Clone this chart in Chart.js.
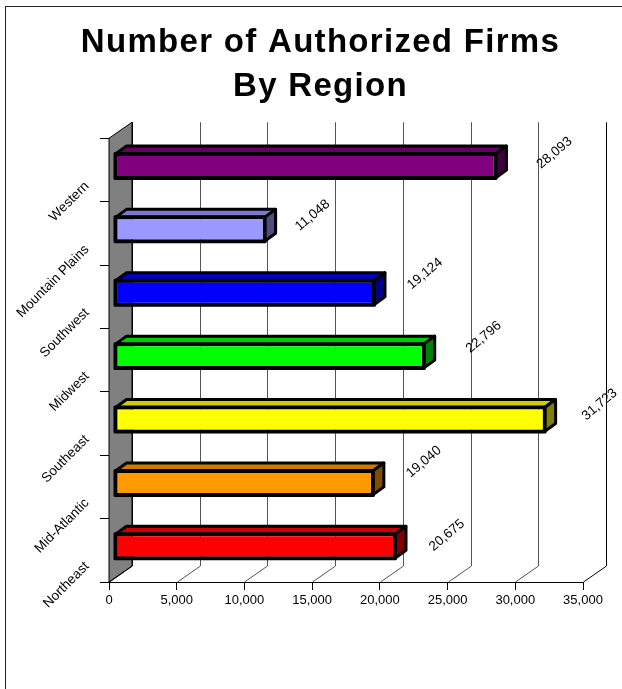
<!DOCTYPE html>
<html lang="en">
<head>
  <meta charset="UTF-8" />
  <title>Number of Authorized Firms By Region</title>
  <script src="https://cdn.jsdelivr.net/npm/chart.js"></script>
  <style>
    html, body { margin: 0; padding: 0; background: #fff; }
    canvas { display: block; }
  </style>
</head>
<body>
<canvas id="firms" width="622" height="689"></canvas>
<script>
  const regions = ['Northeast', 'Mid-Atlantic', 'Southeast', 'Midwest', 'Southwest', 'Mountain Plains', 'Western'];
  const firms = [20675, 19040, 31723, 22796, 19124, 11048, 28093];
  const barColors = ['#ff0000', '#ff9900', '#ffff00', '#00ff00', '#0000ff', '#9999ff', '#800080'];
  const xTicks = [0, 5000, 10000, 15000, 20000, 25000, 30000, 35000];

  // hand placed value labels, distance from the end of each bar
  const labelDx = [58, 57, 61, 66, 57, 54, 65];
  const labelDy = [-11, -21, -15, -19, -19, -14, -13];

  // depth of the back wall and of the bars, in pixels
  const wall = { dx: 23, dy: -16 };
  const barShift = { dx: 6, dy: -4 };
  const barDepth = { dx: 11, dy: -8 };

  function shade(hex, k) {
    const n = parseInt(hex.slice(1), 16);
    const c = [n >> 16, (n >> 8) & 255, n & 255].map(v => Math.round(v * k));
    return `rgb(${c[0]},${c[1]},${c[2]})`;
  }

  function poly(ctx, pts, fill, stroke, width) {
    ctx.beginPath();
    pts.forEach((p, i) => i ? ctx.lineTo(p[0], p[1]) : ctx.moveTo(p[0], p[1]));
    ctx.closePath();
    if (fill) { ctx.fillStyle = fill; ctx.fill(); }
    if (stroke) {
      ctx.strokeStyle = stroke;
      ctx.lineWidth = width;
      ctx.lineJoin = 'round';
      ctx.stroke();
    }
  }

  // wall, floor lines and back gridlines sit behind the bars
  const backdrop = {
    id: 'backdrop',
    beforeDatasetsDraw(chart) {
      const { ctx, chartArea: a, scales: { x } } = chart;
      ctx.save();
      poly(ctx, [
        [a.left, a.bottom], [a.left + wall.dx, a.bottom + wall.dy],
        [a.left + wall.dx, a.top + wall.dy], [a.left, a.top]
      ], '#808080', '#000', 1);
      xTicks.forEach((v, i) => {
        const px = Math.round(x.getPixelForValue(v)) + 0.5;
        ctx.beginPath();
        ctx.moveTo(px, a.bottom);
        ctx.lineTo(px + wall.dx, a.bottom + wall.dy);
        ctx.lineTo(px + wall.dx, a.top + wall.dy);
        ctx.strokeStyle = (i === 0 || i === xTicks.length - 1) ? '#000' : '#555';
        ctx.lineWidth = 1;
        ctx.stroke();
      });
      ctx.restore();
    }
  };

  // top and side faces, the native bar is the front face
  const bars3d = {
    id: 'bars3d',
    beforeDatasetDraw(chart, args) {
      const { ctx } = chart;
      const bars = chart.getDatasetMeta(args.index).data;
      ctx.save();
      ctx.translate(barShift.dx, barShift.dy);
      bars.forEach((b, i) => {
        const color = barColors[i];
        const top = b.y - b.height / 2;
        const bot = b.y + b.height / 2;
        const d = barDepth;
        poly(ctx, [[b.base, top], [b.base + d.dx, top + d.dy], [b.x + d.dx, top + d.dy], [b.x, top]],
          shade(color, 0.8), '#000', 3);
        poly(ctx, [[b.x, top], [b.x + d.dx, top + d.dy], [b.x + d.dx, bot + d.dy], [b.x, bot]],
          shade(color, 0.5), '#000', 3);
        // thick outline around the front face, overlaps the bar's own border
        poly(ctx, [[b.base - 0.5, top - 0.5], [b.x + 0.5, top - 0.5], [b.x + 0.5, bot + 0.5], [b.base - 0.5, bot + 0.5]],
          null, '#000', 3);
      });
    },
    afterDatasetDraw(chart) {
      chart.ctx.restore();
    }
  };

  const valueLabels = {
    id: 'valueLabels',
    afterDatasetsDraw(chart) {
      const { ctx } = chart;
      const bars = chart.getDatasetMeta(0).data;
      ctx.save();
      ctx.font = '13.5px "Liberation Sans"';
      ctx.fillStyle = '#000';
      ctx.textAlign = 'center';
      ctx.textBaseline = 'middle';
      bars.forEach((b, i) => {
        ctx.save();
        ctx.translate(b.x + labelDx[i], b.y + barShift.dy + labelDy[i]);
        ctx.rotate(-40 * Math.PI / 180);
        ctx.fillText(firms[i].toLocaleString('en-US'), 0, 0);
        ctx.restore();
      });
      ctx.restore();
    }
  };

  const frame = {
    id: 'frame',
    beforeDraw(chart) {
      const { ctx } = chart;
      ctx.save();
      ctx.fillStyle = '#fff';
      ctx.fillRect(0, 0, chart.width, chart.height);
      ctx.strokeStyle = '#222';
      ctx.lineWidth = 1;
      ctx.strokeRect(5.5, 6.5, chart.width, chart.height);
      ctx.restore();

      // the title is spaced out and centred on the frame, not on the plot
      const title = chart.titleBlock;
      if (!title.spaced) {
        const drawTitle = title.draw;
        title.draw = function () {
          ctx.save();
          ctx.letterSpacing = '1.3px';
          ctx.translate(29, 4);
          drawTitle.call(title);
          ctx.restore();
        };
        title.spaced = true;
      }
    }
  };

  new Chart(document.getElementById('firms'), {
    type: 'bar',
    data: {
      labels: regions,
      datasets: [{
        data: firms,
        backgroundColor: barColors,
        borderColor: '#000',
        borderWidth: 2,
        borderSkipped: false,
        barPercentage: 0.378,
        categoryPercentage: 1
      }]
    },
    plugins: [frame, backdrop, bars3d, valueLabels],
    options: {
      responsive: false,
      animation: false,
      indexAxis: 'y',
      layout: { padding: { left: 0, right: 39, top: 16, bottom: 0 } },
      plugins: {
        legend: { display: false },
        tooltip: { enabled: false },
        title: {
          display: true,
          text: ['Number of Authorized Firms', 'By Region'],
          color: '#000',
          font: { family: '"Liberation Sans"', size: 33, weight: 'bold', lineHeight: 1.36 },
          padding: { top: 0, bottom: 32.5 }
        }
      },
      scales: {
        x: {
          min: 0,
          max: 35000,
          afterBuildTicks(s) { s.ticks = xTicks.map(v => ({ value: v })); },
          afterFit(s) { s.height = 107; },
          grid: { drawOnChartArea: false, color: '#000', tickLength: 8 },
          border: { color: '#000' },
          ticks: {
            color: '#000',
            maxRotation: 0,
            padding: 3,
            font: { family: '"Liberation Sans"', size: 13 },
            callback: v => v.toLocaleString('en-US')
          }
        },
        y: {
          reverse: true,
          afterFit(s) { s.width = 109; },
          grid: { drawOnChartArea: false, color: '#000', tickLength: 9 },
          border: { color: '#000' },
          ticks: {
            color: '#000',
            minRotation: 45,
            maxRotation: 45,
            labelOffset: 14,
            padding: 13,
            font: { family: '"Liberation Sans"', size: 13.5 }
          }
        }
      }
    }
  });
</script>
</body>
</html>
